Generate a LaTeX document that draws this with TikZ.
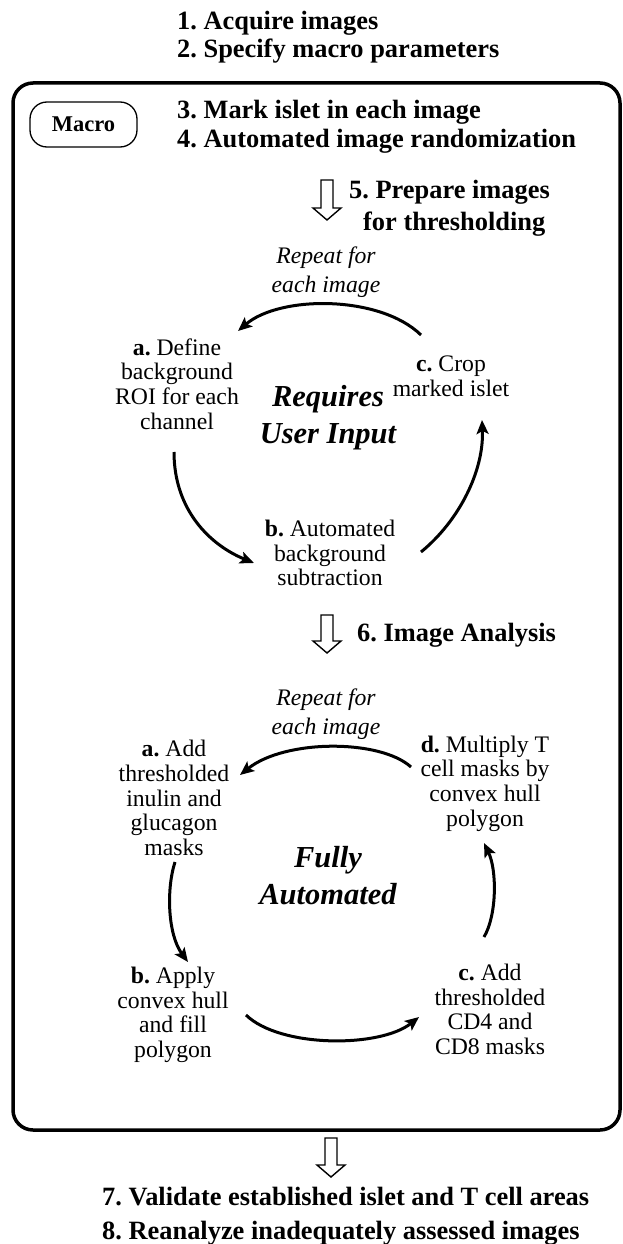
\documentclass[tikz,border=0pt]{standalone}
\usepackage{fontspec}
\setmainfont{Liberation Serif}
\usetikzlibrary{arrows.meta}
\frenchspacing
\newcommand\harrow[3]{\draw[hollow] (#1-6,#2) -- (#1+6,#2) -- (#1+6,#3-12) -- (#1+14,#3-12) -- (#1,#3) -- (#1-14,#3-12) -- (#1-6,#3-12) -- cycle;}
\begin{document}
\begin{tikzpicture}[x=1pt,y=-1pt,
  hdr/.style={font=\frenchspacing\fontsize{26.4}{28}\selectfont\bfseries, anchor=base west, inner sep=0pt},
  body/.style={font=\frenchspacing\fontsize{23.7}{24.6}\selectfont, align=center, inner sep=0pt},
  big/.style={font=\fontsize{30.5}{37}\selectfont\bfseries\itshape, align=center, inner sep=0pt},
  rep/.style={font=\fontsize{23.7}{28.5}\selectfont\itshape, align=center, inner sep=0pt},
  cyc/.style={line width=3pt, -{Stealth[length=14pt,width=12pt,inset=3pt]}},
  hollow/.style={line width=1.4pt, line join=miter},
  frame/.style={line width=3.5pt, rounded corners=20pt},
  macrobox/.style={draw, line width=1.3pt, rounded corners=17pt, minimum width=107pt, minimum height=45pt, inner sep=0pt, font=\fontsize{22.5}{24}\selectfont\bfseries}
]
\useasboundingbox (0,0) rectangle (622,1244);
% header texts
\node[hdr] (s1) at (177,30) {1. Acquire images};
\node[hdr] (s2) at (177,58) {2. Specify macro parameters};
\draw[frame] (13,83) rectangle (620,1130);
\node[macrobox] (macro) at (83.5,124.5) {Macro};
\node[hdr] (s3) at (177,118) {3. Mark islet in each image};
\node[hdr] (s4) at (177,147) {4. Automated image randomization};
\harrow{327}{180}{220}
\node[hdr] (s5) at (349,198) {5. Prepare images};
\node[hdr] (s5b) at (363,230) {for thresholding};
% cycle 1
\node[rep] (rep1) at (326,272) {Repeat for\\each image};
\node[body] (a1) at (177,384) {\textbf{a.} Define\\background\\ROI for each\\channel};
\node[body] (c1) at (451,376) {\textbf{c.} Crop\\marked islet};
\node[big] (req) at (328,418) {Requires\\User Input};
\node[body] (b1) at (330,553) {\textbf{b.} Automated\\background\\subtraction};
\coordinate (t1s) at (421,335);
\coordinate (t1e) at (238,331);
\coordinate (l1s) at (174,452);
\coordinate (l1e) at (254,563);
\coordinate (r1s) at (421,552);
\coordinate (r1e) at (482,420);
\draw[cyc] (t1s) .. controls (380,295) and (280,295) .. (t1e);
\draw[cyc] (l1s) .. controls (174,510) and (210,545) .. (l1e);
\draw[cyc] (r1s) .. controls (460,520) and (484,470) .. (r1e);
% step 6
\harrow{327}{615}{653}
\node[hdr] (s6) at (357,641) {6. Image Analysis};
% cycle 2
\node[rep] (rep2) at (326,714) {Repeat for\\each image};
\node[body] (a2) at (174,798) {\textbf{a.} Add\\thresholded\\inulin and\\glucagon\\masks};
\node[body] (d2) at (485,783.5) {\textbf{d.} Multiply T\\cell masks by\\convex hull\\polygon};
\node[big] (fa) at (328,875.5) {Fully\\Automated};
\node[body] (b2) at (173,1015) {\textbf{b.} Apply\\convex hull\\and fill\\polygon};
\node[body] (c2) at (490,1009.5) {\textbf{c.} Add\\thresholded\\CD4 and\\CD8 masks};
\coordinate (t2s) at (411,767);
\coordinate (t2e) at (240,775);
\coordinate (l2s) at (175,862);
\coordinate (l2e) at (188,962);
\coordinate (b2s) at (246,1015);
\coordinate (b2e) at (419,1017);
\coordinate (r2s) at (484,937);
\coordinate (r2e) at (484,843);
\draw[cyc] (t2s) .. controls (380,739) and (285,739) .. (t2e);
\draw[cyc] (l2s) .. controls (166,890) and (168,935) .. (l2e);
\draw[cyc] (b2s) .. controls (280,1048) and (380,1048) .. (b2e);
\draw[cyc] (r2s) .. controls (497,915) and (497,870) .. (r2e);
% bottom
\harrow{331}{1138}{1177}
\node[hdr] (s7) at (102,1205) {7. Validate established islet and T cell areas};
\node[hdr] (s8) at (102,1239) {8. Reanalyze inadequately assessed images};
\end{tikzpicture}
\end{document}
